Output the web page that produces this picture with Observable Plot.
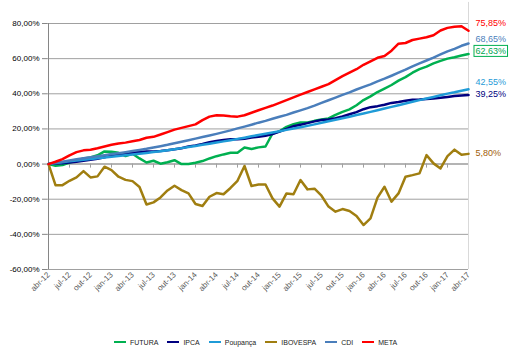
<!DOCTYPE html>
<html><head><meta charset="utf-8">
<script src="https://cdn.jsdelivr.net/npm/d3@7"></script>
<script src="https://cdn.jsdelivr.net/npm/@observablehq/plot@0.6"></script>
<style>
body{margin:0;background:#fff;font-family:"Liberation Sans",Arial,sans-serif;}
#wrap{position:relative;width:512px;height:353px;overflow:hidden;}
#legend{position:absolute;left:114px;top:336px;height:12px;display:flex;align-items:center;font-size:7px;color:#222;}
.item{display:flex;align-items:center;margin-right:9px;}
.sw{width:12px;height:2.5px;margin-right:4px;}
</style></head>
<body><div id="wrap"><div id="chart"></div><div id="legend"></div></div>
<script>
const seriesNames = ["FUTURA","IPCA","Poupança","IBOVESPA","CDI","META"];
const monthNames = ["jan","fev","mar","abr","mai","jun","jul","ago","set","out","nov","dez"];
const xTickLabels = ["abr-12","jul-12","out-12","jan-13","abr-13","jul-13","out-13","jan-14","abr-14","jul-14","out-14","jan-15","abr-15","jul-15","out-15","jan-16","abr-16","jul-16","out-16","jan-17","abr-17"];
const yTicks = [-60,-40,-20,0,20,40,60,80];

const futura = [0,-1.0,-0.6,0.8,1.9,3.2,3.8,5.0,7.2,7.0,
  6.4,4.6,5.9,3.2,0.9,1.9,0.2,1.0,2.2,0.0,
  0.0,0.8,1.7,3.2,4.5,5.5,6.4,6.4,9.4,8.6,
  9.5,10.0,17.4,18.6,21.2,22.7,23.7,23.7,24.6,25.4,
  26.0,28.0,29.7,31.1,33.5,36.4,38.5,41.0,43.0,45.0,
  47.5,49.5,52.0,54.0,55.5,57.3,58.7,60.0,60.8,61.8,62.63];
const ipca = [0,0.36,0.44,0.87,1.29,1.87,2.47,3.08,3.90,4.79,
  5.42,5.92,6.50,6.89,7.17,7.20,7.46,7.84,8.45,9.03,
  10.03,10.64,11.40,12.42,13.17,13.69,14.15,14.16,14.45,15.10,
  15.58,16.17,17.08,18.53,19.97,21.55,22.41,23.32,24.30,25.07,
  25.35,26.03,27.06,28.34,29.57,31.22,32.40,32.97,33.78,34.82,
  35.29,35.99,36.59,36.70,37.05,37.30,37.71,38.23,38.69,39.03,39.25];
const poupanca = [0,0.55,1.06,1.57,2.04,2.46,2.89,3.31,3.74,4.17,
  4.60,5.03,5.46,5.90,6.33,6.81,7.34,7.88,8.47,9.07,
  9.68,10.34,10.98,11.59,12.24,12.92,13.60,14.34,15.04,15.79,
  16.54,17.24,18.00,18.70,19.45,20.20,20.97,21.75,22.60,23.50,
  24.35,25.25,26.10,26.95,27.90,28.80,29.70,30.65,31.60,32.55,
  33.50,34.45,35.45,36.40,37.30,38.20,39.15,40.10,40.85,41.75,42.55];
const ibovespa = [0,-12.0,-12.0,-9.5,-7.6,-4.0,-7.6,-7.0,-1.5,-3.4,
  -7.2,-9.0,-9.7,-13.0,-23.0,-21.8,-19.0,-15.0,-12.3,-14.8,
  -16.7,-22.7,-23.9,-18.6,-16.5,-17.2,-13.6,-9.5,-1.1,-12.5,
  -11.6,-11.6,-19.5,-24.2,-16.7,-17.2,-9.1,-14.4,-14.0,-18.0,
  -24.2,-27.1,-25.6,-26.7,-29.5,-34.7,-30.9,-19.1,-12.9,-21.4,
  -16.7,-7.2,-6.3,-5.3,5.1,0.4,-2.5,4.5,8.2,5.3,5.8];
const cdi = [0,0.73,1.37,2.06,2.76,3.32,3.95,4.51,5.07,5.69,
  6.20,6.77,7.41,8.03,8.67,9.44,10.20,10.97,11.86,12.65,
  13.53,14.48,15.37,16.25,17.19,18.20,19.17,20.29,21.32,22.41,
  23.56,24.60,25.80,26.97,28.01,29.34,30.57,31.85,33.25,34.82,
  36.32,37.83,39.36,40.82,42.45,43.95,45.39,47.08,48.62,50.27,
  52.01,53.70,55.56,57.29,58.94,60.59,62.39,64.16,65.59,67.31,68.65];
const meta = [0,1.3,2.8,5.0,6.8,7.8,8.1,9.0,10.0,11.0,
  11.7,12.2,13.0,13.7,15.0,15.5,16.8,18.2,19.6,20.6,
  21.6,22.6,25.0,27.0,27.8,27.6,27.2,27.0,27.8,29.2,
  30.6,32.0,33.3,34.8,36.4,38.0,39.5,41.0,42.5,44.0,
  45.5,47.8,50.0,52.0,54.0,56.5,58.5,60.5,61.5,64.5,
  68.5,68.9,70.6,71.4,72.2,73.3,76.0,77.5,78.2,78.4,75.85];

const seriesValues = [futura, ipca, poupanca, ibovespa, cdi, meta];
const lineColors = ["#00b050","#000080","#1f9bd7","#a07e10","#4a7ebb","#ff0000"];
const labelColors = ["#00a650","#000080","#1f9bd7","#a0600a","#4a7ebb","#ff0000"];
const labelDy = [-3,-1,-7,-1,-4,-7.5];

const months = d3.range(futura.length).map(i => monthNames[(3+i)%12] + "-" + (12 + Math.floor((3+i)/12)));
const fmt = v => v.toFixed(2).replace(".", ",") + "%";

const marks = [
  Plot.gridY(yTicks.filter(d => d !== 0), {stroke:"#a0a0a0", strokeOpacity:1}),
  Plot.ruleY([0], {stroke:"#b4b4b4", strokeWidth:2}),
  Plot.ruleX(xTickLabels.slice(1), {y1:0, y2:-2.3, stroke:"#a0a0a0"}),
  Plot.ruleX([months[0]], {stroke:"#868686"}),
  Plot.ruleX([months[months.length-1]], {y1:-60, y2:92, stroke:"#d9d9d9"}),
  Plot.axisY({ticks: yTicks, tickFormat: fmt, tickSize:5, tickPadding:3, fontSize:8, fill:"#000", stroke:"#868686"}),
  Plot.axisX({ticks: xTickLabels, tickRotate:-45, tickSize:0, tickPadding:4, fontSize:8, fill:"#595959"}),
];
seriesValues.forEach((vals, k) => {
  marks.push(Plot.line(vals.map((v,i)=>({m:months[i], v})), {x:"m", y:"v", stroke:lineColors[k], strokeWidth:2.5, strokeLinejoin:"round"}));
});
seriesValues.forEach((vals, k) => {
  const last = vals.length-1;
  marks.push(Plot.text([{m:months[last], v:vals[last], s:seriesNames[k]}], {x:"m", y:"v", text:d=>fmt(d.v), dx:7, dy:labelDy[k], textAnchor:"start", fill:labelColors[k], fontSize:9}));
});

const chart = Plot.plot({
  width:512, height:330,
  marginLeft:47, marginRight:44, marginTop:23, marginBottom:61,
  style:{fontFamily:'"Liberation Sans",Arial,sans-serif', background:"#fff", overflow:"visible", color:"#000"},
  x:{type:"point", domain:months, padding:0, label:null},
  y:{domain:[-60,80], label:null},
  marks
});
document.getElementById("chart").appendChild(chart);

// green box around FUTURA end label
const svg = d3.select(chart);
svg.selectAll("text").each(function(){
  if (this.textContent === fmt(futura[futura.length-1])) {
    const b = this.getBBox();
    const r = d3.select(this.parentNode).insert("rect", () => this)
      .attr("x", b.x-1.5).attr("y", b.y-0.5).attr("width", b.width+3).attr("height", b.height+1)
      .attr("fill","#fff").attr("stroke","#00b050").attr("stroke-width",1);
    const t = this.getAttribute("transform");
    if (t) r.attr("transform", t);
  }
});

const legend = d3.select("#legend");
seriesNames.forEach((n,k) => {
  const it = legend.append("div").attr("class","item");
  it.append("div").attr("class","sw").style("background", lineColors[k]);
  it.append("span").text(n);
});
</script></body></html>
